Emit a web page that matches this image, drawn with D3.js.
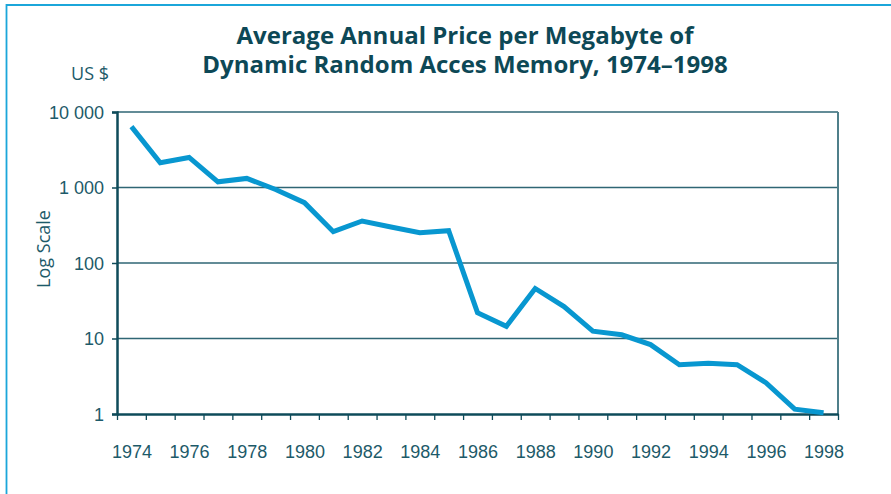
<!DOCTYPE html>
<html><head><meta charset="utf-8">
<script src="https://cdn.jsdelivr.net/npm/d3@7"></script>
<style>
html,body{margin:0;padding:0;background:#fff;}
svg{display:block;font-family:"Open Sans",sans-serif;}
</style></head>
<body>
<svg id="chart" width="891" height="494"></svg>
<script>
const years = [1974,1975,1976,1977,1978,1979,1980,1981,1982,1983,1984,1985,1986,1987,1988,1989,1990,1991,1992,1993,1994,1995,1996,1997,1998];
const prices = [6400,2130,2500,1190,1320,940,630,260,360,300,252,268,22,14.5,46,26.5,12.5,11.2,8.3,4.5,4.7,4.5,2.6,1.16,1.04];
const yTicks = [1,10,100,1000,10000];
const xLabelYears = [1974,1976,1978,1980,1982,1984,1986,1988,1990,1992,1994,1996,1998];
const titleLines = ["Average Annual Price per Megabyte of","Dynamic Random Acces Memory, 1974–1998"];

const svg = d3.select("#chart");
const L=117, R=838, T=112, B=414;
const textCol="#1d5a69", titleCol="#0d4856", axisCol="#0e4b5a", gridCol="#2f6674", lineCol="#0897d0", frameCol="#1ba6da";

// outer frame
svg.append("path").attr("d","M6.5,494 V5 H891").attr("fill","none").attr("stroke",frameCol).attr("stroke-width",1.8);

const x = d3.scaleLinear().domain([years[0]-0.5, years[years.length-1]+0.5]).range([L,R]);
const y = d3.scaleLog().domain([1,10000]).range([B,T]);
const loc = d3.formatLocale({decimal:".",thousands:" ",grouping:[3],currency:["",""]});
const fmt = loc.format(",d");

// gridlines
svg.append("g").selectAll("line").data(yTicks.filter(d=>d>1)).join("line")
  .attr("x1",L).attr("x2",R).attr("y1",d=>y(d)).attr("y2",d=>y(d))
  .attr("stroke",gridCol).attr("stroke-width",1.5);
// right border
svg.append("line").attr("x1",R).attr("x2",R).attr("y1",T).attr("y2",B).attr("stroke","#4f7f8a").attr("stroke-width",2);

// y axis
const gy = svg.append("g").attr("transform",`translate(${L},0)`)
  .call(d3.axisLeft(y).tickValues(yTicks).tickFormat(fmt).tickSize(5).tickPadding(8));
gy.select(".domain").attr("stroke",axisCol).attr("stroke-width",2.5);
gy.selectAll(".tick line").attr("stroke",axisCol).attr("stroke-width",1.5);
gy.selectAll(".tick text").attr("fill",textCol).style("font-size","18px").attr("dy","0.36em");

// x axis ticks
const gx = svg.append("g").attr("transform",`translate(0,${B})`)
  .call(d3.axisBottom(x).tickValues(d3.range(years[0]-0.5, years[years.length-1]+1, 1)).tickFormat("").tickSize(6).tickSizeOuter(0));
gx.select(".domain").attr("stroke",axisCol).attr("stroke-width",2.5);
gx.selectAll(".tick line").attr("stroke",axisCol).attr("stroke-width",1.3);
// x labels
const gxl = svg.append("g").attr("transform",`translate(0,${B})`)
  .call(d3.axisBottom(x).tickValues(xLabelYears).tickFormat(d3.format("d")).tickSize(0).tickPadding(31));
gxl.select(".domain").remove();
gxl.selectAll(".tick text").attr("fill",textCol).style("font-size","18px");

// data line
svg.append("path").datum(years.map((yr,i)=>[yr,prices[i]]))
  .attr("d", d3.line().x(d=>x(d[0])).y(d=>y(d[1])))
  .attr("fill","none").attr("stroke",lineCol).attr("stroke-width",5).attr("stroke-linejoin","miter").attr("stroke-linecap","butt");

// title
svg.append("g").selectAll("text").data(titleLines).join("text")
  .attr("x",465).attr("y",(d,i)=>44+i*29).attr("text-anchor","middle")
  .attr("fill",titleCol).style("font-size","24px").style("font-weight","700").text(d=>d);

// axis labels
svg.append("text").attr("x",109).attr("y",80).attr("text-anchor","end").attr("fill",textCol).style("font-size","18px").text("US $");
svg.append("text").attr("transform","translate(50,249) rotate(-90)").attr("text-anchor","middle").attr("fill",textCol).style("font-size","18px").text("Log Scale");
</script>
</body></html>
